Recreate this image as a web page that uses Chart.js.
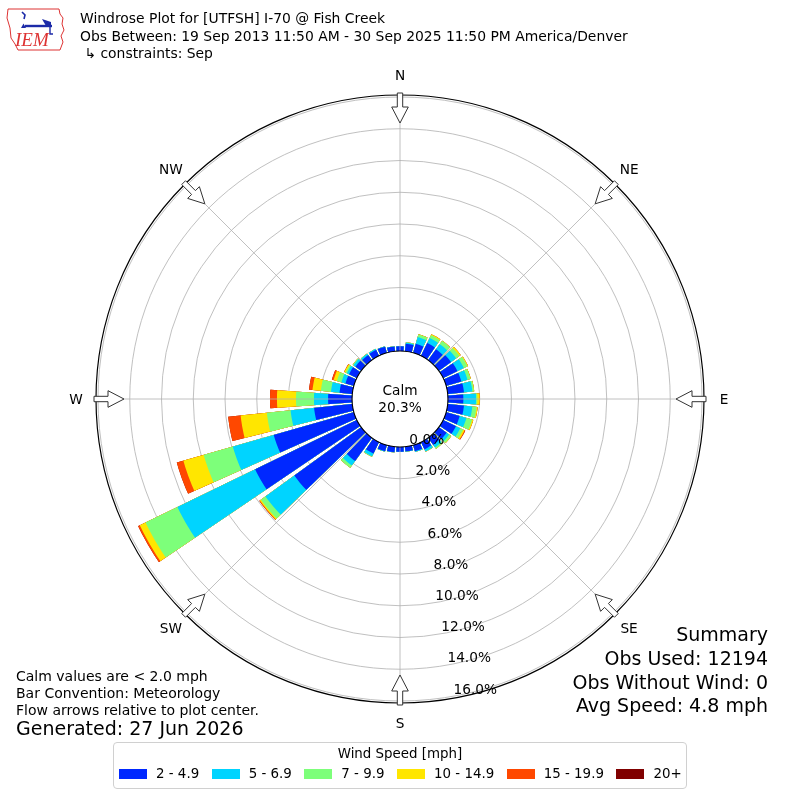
<!DOCTYPE html>
<html>
<head>
<meta charset="utf-8">
<script src="https://cdn.jsdelivr.net/npm/chart.js@4.4.0/dist/chart.umd.min.js"></script>
<style>
  body { margin: 0; background: #fff; font-family: "DejaVu Sans", sans-serif; color: #000; }
  #wrap { position: relative; width: 800px; height: 800px; overflow: hidden; }
  #rose { position: absolute; left: 0; top: 0; }
  .txt { position: absolute; white-space: pre; }
  #title { left: 80px; top: 10.25px; font-size: 13.9px; line-height: 17.5px; }
  #notes { left: 16px; top: 667.5px; font-size: 14px; line-height: 17px; }
  #generated { left: 16px; top: 718.8px; font-size: 19px; line-height: 19px; }
  #summary { right: 32px; top: 623.2px; font-size: 19px; line-height: 23.7px; text-align: right; }
  #legend { position: absolute; left: 113px; top: 742px; width: 572px; height: 45px;
            border: 1px solid #d0d0d0; border-radius: 4px; font-size: 13.4px; }
  #legend .head { position: absolute; left: 0; right: 0; top: 3px; line-height: 16px; text-align: center; }
  #legend .row { position: absolute; left: 5px; top: 23px; height: 16px; display: flex; align-items: center; }
  #legend .sw { width: 28px; height: 9.4px; margin-right: 9px; }
  #legend .lab { margin-right: 12.5px; line-height: 16px; white-space: nowrap; }
  #logo { position: absolute; left: 6px; top: 6px; }
</style>
</head>
<body>
<div id="wrap">
  <canvas id="rose" width="800" height="800"></canvas>

  <svg id="logo" width="60" height="46" viewBox="0 0 60 46">
    <path d="M2 3 L53 3 L54 8 L57 12 L56 18 L58 24 L55 30 L57 36 L54 44 L12 44 L9 38 L5 32 L4 22 L1 12 Z"
          fill="none" stroke="#d33" stroke-width="1"/>
    <path d="M16 6 L19 9 L18 13" fill="none" stroke="#1c2aa8" stroke-width="1.6"/>
    <path d="M15 22 L20 22 L17.5 17.5 Z" fill="#1c2aa8"/>
    <line x1="19" y1="20" x2="46" y2="20" stroke="#1c2aa8" stroke-width="2.4"/>
    <path d="M36 13 L45 16 L45 21 L40 20 Z" fill="#1c2aa8"/>
    <path d="M44 21 L44 28 L47 28" fill="none" stroke="#1c2aa8" stroke-width="1.4"/>
    <text x="9" y="40" font-family="Liberation Serif" font-style="italic" font-size="19" fill="#d33">IEM</text>
  </svg>

  <div id="title" class="txt">Windrose Plot for [UTFSH] I-70 @ Fish Creek
Obs Between: 19 Sep 2013 11:50 AM - 30 Sep 2025 11:50 PM America/Denver
 ↳ constraints: Sep</div>

  <div id="notes" class="txt">Calm values are &lt; 2.0 mph
Bar Convention: Meteorology
Flow arrows relative to plot center.</div>
  <div id="generated" class="txt">Generated: 27 Jun 2026</div>

  <div id="summary" class="txt">Summary
Obs Used: 12194
Obs Without Wind: 0
Avg Speed: 4.8 mph</div>

  <div id="legend">
    <div class="head">Wind Speed [mph]</div>
    <div class="row" id="legendRow"></div>
  </div>
</div>

<script>
// direction bins (degrees, meteorological: where wind comes from)
const directions = [0, 10, 20, 30, 40, 50, 60, 70, 80, 90, 100, 110, 120, 130, 140, 150, 160, 170,
                    180, 190, 200, 210, 220, 230, 240, 250, 260, 270, 280, 290, 300, 310, 320, 330, 340, 350];

const speedBins = ['2 - 4.9', '5 - 6.9', '7 - 9.9', '10 - 14.9', '15 - 19.9', '20+'];
const binColors = ['#0028ff', '#00d4ff', '#7dff7a', '#ffe600', '#ff4800', '#800000'];

// percent of observations per direction, one array per speed bin
const pct2to5 = [0.30, 0.48, 0.60, 0.90, 0.85, 0.95, 1.00, 1.00, 1.03, 0.97, 1.03, 0.89, 0.90, 0.60, 0.55, 0.50, 0.40, 0.30,
                 0.30, 0.35, 0.40, 0.80, 1.80, 5.20, 7.13, 5.25, 2.42, 1.51, 0.81, 0.55, 0.55, 0.45, 0.40, 0.42, 0.41, 0.30];
const pct5to7 = [0.00, 0.07, 0.44, 0.35, 0.40, 0.40, 0.45, 0.40, 0.53, 0.80, 0.53, 0.44, 0.30, 0.20, 0.20, 0.15, 0.05, 0.02,
                 0.00, 0.02, 0.03, 0.20, 0.35, 2.25, 5.44, 2.68, 1.49, 0.89, 0.54, 0.27, 0.15, 0.15, 0.10, 0.07, 0.03, 0.02];
const pct7to10 = [0.00, 0.02, 0.16, 0.20, 0.25, 0.25, 0.25, 0.20, 0.10, 0.08, 0.27, 0.37, 0.20, 0.15, 0.10, 0.02, 0.00, 0.00,
                  0.00, 0.00, 0.00, 0.03, 0.18, 0.35, 2.23, 1.91, 1.50, 1.13, 0.64, 0.29, 0.10, 0.05, 0.02, 0.00, 0.00, 0.00];
const pct10to15 = [0.00, 0.00, 0.02, 0.07, 0.02, 0.10, 0.05, 0.02, 0.02, 0.15, 0.07, 0.08, 0.10, 0.02, 0.00, 0.00, 0.00, 0.00,
                   0.00, 0.00, 0.00, 0.00, 0.00, 0.08, 0.40, 1.33, 1.66, 1.20, 0.53, 0.22, 0.08, 0.01, 0.00, 0.00, 0.00, 0.00];
const pct15to20 = [0.00, 0.00, 0.00, 0.00, 0.00, 0.00, 0.00, 0.00, 0.00, 0.00, 0.00, 0.00, 0.05, 0.00, 0.00, 0.00, 0.00, 0.00,
                   0.00, 0.00, 0.00, 0.00, 0.00, 0.04, 0.12, 0.43, 0.79, 0.44, 0.22, 0.11, 0.02, 0.00, 0.00, 0.00, 0.00, 0.00];
const pct20up = [0, 0, 0, 0, 0, 0, 0, 0, 0, 0, 0, 0, 0, 0, 0, 0, 0, 0,
                 0, 0, 0, 0, 0, 0, 0, 0, 0, 0, 0, 0, 0, 0, 0, 0, 0, 0];

const calmPct = 20.3;
const tickValues = [0, 2, 4, 6, 8, 10, 12, 14, 16];
const compass = ['N', 'NE', 'E', 'SE', 'S', 'SW', 'W', 'NW'];

// axis config
const rMin = -3.02;          // leaves room for the calm circle
const rMax = 16;
const gapDeg = 1.8;          // white gap between neighbouring bars
const tickBearing = 169;     // where the % labels run

// bars are drawn overlapping, so each layer carries the running total
const bins = [pct2to5, pct5to7, pct7to10, pct10to15, pct15to20, pct20up];
let running = directions.map(() => 0);
const datasets = bins.map((vals, k) => {
    running = running.map((r, i) => r + vals[i]);
    return {
        label: speedBins[k],
        data: running.slice(),
        backgroundColor: binColors[k],
        borderWidth: 0
    };
});

function toXY(s, bearing, dist) {
    const a = (bearing - 90) * Math.PI / 180;
    return { x: s.xCenter + dist * Math.cos(a), y: s.yCenter + dist * Math.sin(a), a };
}

function drawArrow(ctx, s, bearing, rOut) {
    const a = (bearing - 90) * Math.PI / 180;
    const ux = Math.cos(a), uy = Math.sin(a);
    const nx = -uy, ny = ux;
    const pt = (t, w) => [s.xCenter + ux * t + nx * w, s.yCenter + uy * t + ny * w];
    const tail = rOut + 4, base = rOut - 10, tip = rOut - 26;
    const pts = [pt(tail, -2.7), pt(base, -2.7), pt(base, -8.3), pt(tip, 0),
                 pt(base, 8.3), pt(base, 2.7), pt(tail, 2.7)];
    ctx.beginPath();
    ctx.moveTo(pts[0][0], pts[0][1]);
    pts.slice(1).forEach(p => ctx.lineTo(p[0], p[1]));
    ctx.closePath();
    ctx.fillStyle = '#fff';
    ctx.fill();
    ctx.strokeStyle = '#333';
    ctx.lineWidth = 1;
    ctx.stroke();
}

const windrose = {
    id: 'windrose',
    beforeDatasetsDraw(chart) {
        // cut thin wedges between direction bins
        const s = chart.scales.r;
        const ctx = chart.ctx;
        const arcs = chart.getDatasetMeta(0).data;
        const half = gapDeg * Math.PI / 360;
        const R = s.drawingArea + 5;
        ctx.save();
        ctx.beginPath();
        ctx.rect(0, 0, chart.width, chart.height);
        arcs.forEach(arc => {
            ctx.moveTo(s.xCenter, s.yCenter);
            ctx.arc(s.xCenter, s.yCenter, R, arc.startAngle - half, arc.startAngle + half);
            ctx.closePath();
        });
        ctx.clip('evenodd');
    },
    afterDatasetsDraw(chart) {
        const ctx = chart.ctx;
        ctx.restore();

        const s = chart.scales.r;
        const r0 = s.getDistanceFromCenterForValue(0);
        const rOut = s.getDistanceFromCenterForValue(rMax);
        ctx.save();

        // spokes every 45 degrees
        ctx.strokeStyle = '#b0b0b0';
        ctx.lineWidth = 0.8;
        compass.forEach((c, i) => {
            const p1 = toXY(s, i * 45, r0), p2 = toXY(s, i * 45, rOut);
            ctx.beginPath();
            ctx.moveTo(p1.x, p1.y);
            ctx.lineTo(p2.x, p2.y);
            ctx.stroke();
        });

        // frame
        ctx.strokeStyle = '#000';
        ctx.lineWidth = 1.2;
        ctx.beginPath();
        ctx.arc(s.xCenter, s.yCenter, rOut + 2, 0, Math.PI * 2);
        ctx.stroke();

        // calm circle
        ctx.beginPath();
        ctx.arc(s.xCenter, s.yCenter, r0, 0, Math.PI * 2);
        ctx.fillStyle = '#fff';
        ctx.fill();
        ctx.lineWidth = 1.1;
        ctx.stroke();

        ctx.fillStyle = '#000';
        ctx.textAlign = 'center';
        ctx.textBaseline = 'middle';
        ctx.font = '13.7px "DejaVu Sans"';
        ctx.fillText('Calm', s.xCenter, s.yCenter - 8);
        ctx.fillText(calmPct.toFixed(1) + '%', s.xCenter, s.yCenter + 9);

        // percent labels
        tickValues.forEach(v => {
            const p = toXY(s, tickBearing, s.getDistanceFromCenterForValue(v));
            ctx.fillText(v.toFixed(1) + '%', p.x + 17.6, p.y - 5.5);
        });

        // arrows and compass names
        compass.forEach((c, i) => {
            drawArrow(ctx, s, i * 45, rOut);
            const p = toXY(s, i * 45, rOut + 22);
            ctx.fillStyle = '#000';
            ctx.fillText(c, p.x, p.y + 1);
        });
        ctx.restore();
    }
};

Chart.defaults.font.family = '"DejaVu Sans", sans-serif';

new Chart(document.getElementById('rose'), {
    type: 'polarArea',
    data: { labels: directions.map(d => d + '°'), datasets },
    options: {
        responsive: false,
        animation: false,
        layout: { padding: { left: 98, right: 98, top: 97, bottom: 99 } },
        scales: {
            r: {
                min: rMin,
                max: rMax,
                startAngle: -5,
                afterBuildTicks: s => { s.ticks = tickValues.map(v => ({ value: v })); },
                ticks: { display: false },
                grid: { circular: true, color: '#b0b0b0', lineWidth: 0.8 },
                angleLines: { display: false },
                pointLabels: { display: false }
            }
        },
        plugins: {
            legend: { display: false },
            tooltip: { enabled: false }
        }
    },
    plugins: [windrose]
});

// legend below the rose
const legendRow = document.getElementById('legendRow');
speedBins.forEach((lab, k) => {
    const sw = document.createElement('span');
    sw.className = 'sw';
    sw.style.background = binColors[k];
    const t = document.createElement('span');
    t.className = 'lab';
    t.textContent = lab;
    legendRow.appendChild(sw);
    legendRow.appendChild(t);
});
</script>
</body>
</html>
